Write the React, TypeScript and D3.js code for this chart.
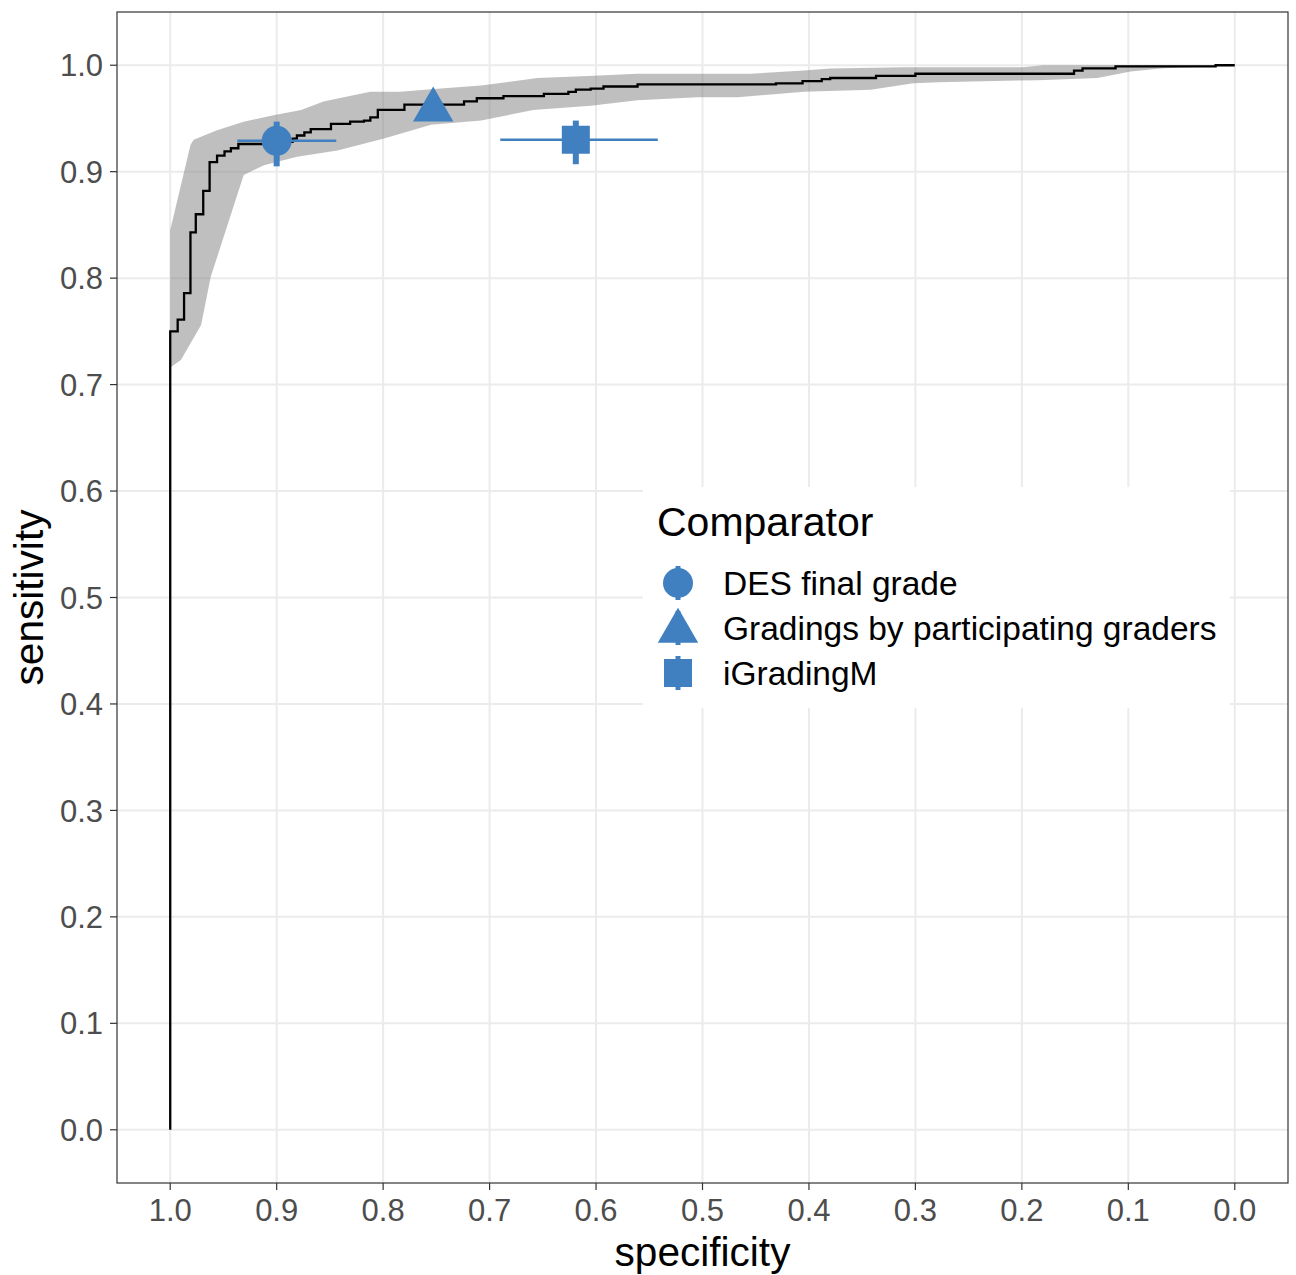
import React from 'react';
import * as d3 from 'd3';

// empirical ROC steps (specificity, sensitivity)
const rocSpec = [1.0, 1.0, 0.993, 0.987, 0.981, 0.976, 0.969, 0.963, 0.956, 0.949, 0.943, 0.936, 0.910, 0.885, 0.881, 0.874, 0.868, 0.849, 0.831, 0.818, 0.812, 0.805, 0.780, 0.724, 0.712, 0.687, 0.649, 0.626, 0.619, 0.605, 0.593, 0.561, 0.431, 0.406, 0.388, 0.380, 0.337, 0.300, 0.151, 0.143, 0.112, 0.018, 0.0];
const rocSens = [0.0, 0.750, 0.761, 0.786, 0.843, 0.860, 0.882, 0.909, 0.915, 0.919, 0.922, 0.926, 0.928, 0.931, 0.934, 0.937, 0.940, 0.945, 0.947, 0.948, 0.951, 0.958, 0.963, 0.966, 0.969, 0.971, 0.973, 0.975, 0.977, 0.978, 0.980, 0.982, 0.983, 0.985, 0.987, 0.988, 0.990, 0.992, 0.995, 0.997, 0.999, 1.0, 1.0];

// confidence band edges
const upperSpec = [1.0, 0.981, 0.978, 0.956, 0.931, 0.903, 0.877, 0.856, 0.837, 0.812, 0.784, 0.749, 0.708, 0.655, 0.602, 0.561, 0.455, 0.405, 0.380, 0.311, 0.199, 0.180, 0.0];
const upperSens = [0.845, 0.925, 0.930, 0.939, 0.947, 0.953, 0.958, 0.966, 0.970, 0.975, 0.975, 0.978, 0.981, 0.988, 0.990, 0.992, 0.992, 0.995, 0.997, 0.998, 0.998, 1.0, 1.0];
const lowerSpec = [1.0, 0.990, 0.971, 0.962, 0.931, 0.912, 0.881, 0.843, 0.800, 0.755, 0.708, 0.659, 0.605, 0.561, 0.505, 0.467, 0.405, 0.342, 0.302, 0.279, 0.185, 0.129, 0.098, 0.070, 0.0];
const lowerSens = [0.716, 0.723, 0.756, 0.801, 0.897, 0.906, 0.914, 0.920, 0.931, 0.944, 0.948, 0.958, 0.962, 0.967, 0.970, 0.970, 0.975, 0.977, 0.983, 0.984, 0.986, 0.988, 0.994, 0.997, 1.0];

// comparators
const compNames = ['DES final grade', 'Gradings by participating graders', 'iGradingM'];
const compShapes = ['circle', 'triangle', 'square'];
const compSpec = [0.900, 0.753, 0.619];
const compSens = [0.929, 0.958, 0.930];
const compSpecLo = [0.844, 0.744, 0.542];
const compSpecHi = [0.937, 0.762, 0.690];
const compSensLo = [0.905, 0.952, 0.907];
const compSensHi = [0.947, 0.964, 0.948];

const xTicks = [1.0, 0.9, 0.8, 0.7, 0.6, 0.5, 0.4, 0.3, 0.2, 0.1, 0.0];
const yTicks = [0.0, 0.1, 0.2, 0.3, 0.4, 0.5, 0.6, 0.7, 0.8, 0.9, 1.0];

const W = 1296;
const H = 1275;
const margin = { top: 12, right: 8, bottom: 92, left: 117 };
const blue = '#4080c0';
const font = '"Liberation Sans", Arial, sans-serif';

function Shape({ kind, cx, cy }) {
    if (kind === 'circle') return <circle cx={cx} cy={cy} r={15} fill={blue} />;
    if (kind === 'triangle') {
        const s = 15;
        const pts = [
            [cx, cy - 1.555 * s],
            [cx + 1.347 * s, cy + 0.778 * s],
            [cx - 1.347 * s, cy + 0.778 * s],
        ];
        return <polygon points={pts.map((p) => p.join(',')).join(' ')} fill={blue} />;
    }
    return <rect x={cx - 14} y={cy - 14} width={28} height={28} fill={blue} />;
}

export default function App() {
    const x = d3.scaleLinear([1.05, -0.05], [margin.left, W - margin.right]);
    const y = d3.scaleLinear([-0.05, 1.05], [H - margin.bottom, margin.top]);
    const [x0, x1] = x.range();
    const [y0, y1] = y.range();

    const roc = d3
        .line<number>((d, i) => x(rocSpec[i]), (d) => y(d))
        .curve(d3.curveStepAfter);

    const band = [
        ...upperSpec.map((s, i) => [x(s), y(upperSens[i])]),
        ...lowerSpec.map((s, i) => [x(s), y(lowerSens[i])]).reverse(),
    ];

    const legendX = 643;
    const legendY = 487;
    const keyY = [583, 628, 673];

    return (
        <svg width={W} height={H} style={{ position: 'absolute', left: 0, top: 0, background: '#fff' }} fontFamily={font}>
            <rect x={0} y={0} width={W} height={H} fill="#fff" />
            {/* grid */}
            <g stroke="#ebebeb" strokeWidth={2}>
                {xTicks.map((t) => (
                    <line key={'gx' + t} x1={x(t)} x2={x(t)} y1={y1} y2={y0} />
                ))}
                {yTicks.map((t) => (
                    <line key={'gy' + t} x1={x0} x2={x1} y1={y(t)} y2={y(t)} />
                ))}
            </g>

            {/* CI band */}
            <path d={'M' + band.map((p) => p.join(',')).join('L') + 'Z'} fill="#7f7f7f" fillOpacity={0.5} />

            {/* ROC curve */}
            <path d={roc(rocSens)} fill="none" stroke="#000" strokeWidth={2.3} />

            {/* comparators */}
            {compNames.map((n, i) => (
                <g key={n}>
                    <line x1={x(compSpecLo[i])} x2={x(compSpecHi[i])} y1={y(compSens[i])} y2={y(compSens[i])} stroke={blue} strokeWidth={2.5} />
                    <line x1={x(compSpec[i])} x2={x(compSpec[i])} y1={y(compSensLo[i])} y2={y(compSensHi[i])} stroke={blue} strokeWidth={6} />
                    <Shape kind={compShapes[i]} cx={x(compSpec[i])} cy={y(compSens[i])} />
                </g>
            ))}

            {/* panel border */}
            <rect x={x0} y={y1} width={x1 - x0} height={y0 - y1} fill="none" stroke="#333" strokeWidth={1.2} />

            {/* x axis */}
            <g>
                {xTicks.map((t) => (
                    <g key={'xt' + t}>
                        <line x1={x(t)} x2={x(t)} y1={y0} y2={y0 + 7} stroke="#333" strokeWidth={1.2} />
                        <text x={x(t)} y={y0 + 38} textAnchor="middle" fontSize={31} fill="#4d4d4d">
                            {t.toFixed(1)}
                        </text>
                    </g>
                ))}
                <text x={(x0 + x1) / 2} y={1266} textAnchor="middle" fontSize={40.6} fill="#000">
                    specificity
                </text>
            </g>

            {/* y axis */}
            <g>
                {yTicks.map((t) => (
                    <g key={'yt' + t}>
                        <line x1={x0 - 7} x2={x0} y1={y(t)} y2={y(t)} stroke="#333" strokeWidth={1.2} />
                        <text x={x0 - 14} y={y(t)} dy="0.36em" textAnchor="end" fontSize={31} fill="#4d4d4d">
                            {t.toFixed(1)}
                        </text>
                    </g>
                ))}
                <text transform={`translate(43,${(y0 + y1) / 2}) rotate(-90)`} textAnchor="middle" fontSize={40.6} fill="#000">
                    sensitivity
                </text>
            </g>

            {/* legend */}
            <g>
                <rect x={legendX} y={legendY} width={587} height={221} fill="#fff" />
                <text x={legendX + 14} y={536} fontSize={41} fill="#000">
                    Comparator
                </text>
                {compNames.map((n, i) => (
                    <g key={'lg' + n}>
                        <line x1={678} x2={678} y1={keyY[i] - 17} y2={keyY[i] + 17} stroke={blue} strokeWidth={5} />
                        <Shape kind={compShapes[i]} cx={678} cy={compShapes[i] === 'triangle' ? keyY[i] + 3 : keyY[i]} />
                        <text x={723} y={keyY[i]} dy="0.36em" fontSize={33.5} fill="#000">
                            {n}
                        </text>
                    </g>
                ))}
            </g>
        </svg>
    );
}
